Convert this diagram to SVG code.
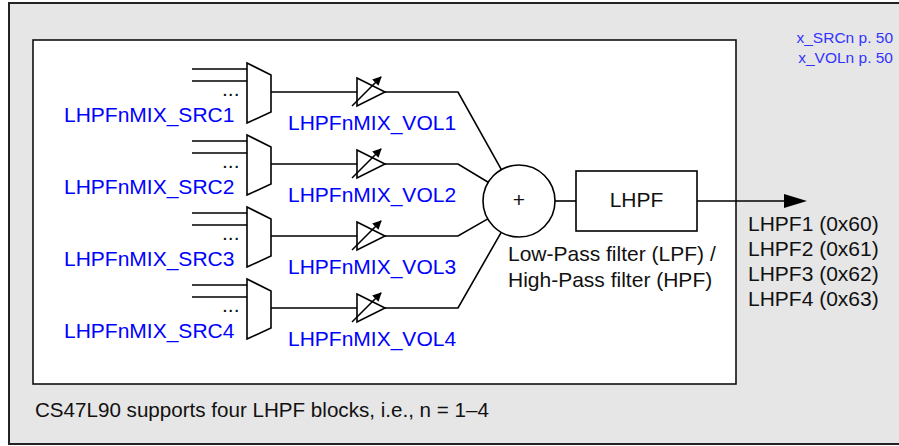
<svg xmlns="http://www.w3.org/2000/svg" width="899" height="446" viewBox="0 0 899 446">
<style>
.ln{fill:none;stroke:#000;stroke-width:1.6}
.sh{fill:#fff;stroke:#000;stroke-width:1.6}
.t{font-family:"Liberation Sans",Arial,sans-serif;font-size:21px;fill:#111}
.b{font-family:"Liberation Sans",Arial,sans-serif;font-size:21px;fill:#0000ff}
.r{font-family:"Liberation Sans",Arial,sans-serif;font-size:15.5px;fill:#3333ff;text-anchor:end}
</style>
<defs>
<marker id="ah" markerWidth="9" markerHeight="9" refX="8" refY="4.5" orient="auto" markerUnits="userSpaceOnUse">
<path d="M0,0 L9,4.5 L0,9 Z" fill="#000"/>
</marker>
<g id="muxshape">
<path class="sh" d="M247,63 L271,75 L271,112 L247,123 Z"/>
<path class="ln" d="M192,69 H247 M192,81 H247"/>
</g>
<g id="ampshape">
<path class="sh" d="M357,78 L385,92 L357,106 Z"/>
<path class="ln" d="M352,106 L381,77" marker-end="url(#ah)"/>
</g>
</defs>
<g id="frame">
<rect x="9" y="3" width="900" height="441" fill="#e6e6e6" stroke="#222" stroke-width="2"/>
<rect x="33" y="40" width="703" height="344" fill="#fff" stroke="#111" stroke-width="1.6"/>
<text class="r" x="893" y="43">x_SRCn p. 50</text>
<text class="r" x="893" y="63">x_VOLn p. 50</text>
<text class="t" x="35" y="417" style="font-size:20.6px">CS47L90 supports four LHPF blocks, i.e., n = 1–4</text>
</g>
<g id="connectors">
<path class="ln" d="M271,92 H357 M271,164 H357 M271,236 H357 M271,308 H357"/>
<path class="ln" d="M385,92 H458 L501.4,169.6"/>
<path class="ln" d="M385,164 H458 L488.2,182.3"/>
<path class="ln" d="M385,236 H458 L487.8,218.9"/>
<path class="ln" d="M385,308 H458 L501.2,232.3"/>
<path class="ln" d="M555,201 H576"/>
<path class="ln" d="M697,201 H785"/>
<path d="M784,194 L807,201 L784,208 Z" fill="#000"/>
</g>
<g id="mux1">
<use href="#muxshape"/>
<text class="t" x="222" y="96">...</text>
<text class="b" x="64" y="122">LHPFnMIX_SRC1</text>
</g>
<g id="mux2" transform="translate(0,72)">
<use href="#muxshape"/>
<text class="t" x="222" y="96">...</text>
<text class="b" x="64" y="122">LHPFnMIX_SRC2</text>
</g>
<g id="mux3" transform="translate(0,144)">
<use href="#muxshape"/>
<text class="t" x="222" y="96">...</text>
<text class="b" x="64" y="122">LHPFnMIX_SRC3</text>
</g>
<g id="mux4" transform="translate(0,216)">
<use href="#muxshape"/>
<text class="t" x="222" y="96">...</text>
<text class="b" x="64" y="122">LHPFnMIX_SRC4</text>
</g>
<g id="vol1">
<use href="#ampshape"/>
<text class="b" x="288" y="130">LHPFnMIX_VOL1</text>
</g>
<g id="vol2" transform="translate(0,72)">
<use href="#ampshape"/>
<text class="b" x="288" y="130">LHPFnMIX_VOL2</text>
</g>
<g id="vol3" transform="translate(0,144)">
<use href="#ampshape"/>
<text class="b" x="288" y="130">LHPFnMIX_VOL3</text>
</g>
<g id="vol4" transform="translate(0,216)">
<use href="#ampshape"/>
<text class="b" x="288" y="130">LHPFnMIX_VOL4</text>
</g>
<g id="sum">
<circle class="sh" cx="519" cy="201" r="36"/>
<text class="t" x="519" y="207" text-anchor="middle" style="font-size:21px">+</text>
</g>
<g id="lhpf">
<rect class="sh" x="576" y="171" width="121" height="60"/>
<text class="t" x="636.5" y="207" text-anchor="middle">LHPF</text>
<text class="t" x="508" y="261">Low-Pass filter (LPF) /</text>
<text class="t" x="508" y="287">High-Pass filter (HPF)</text>
</g>
<g id="outputs">
<text class="t" x="748" y="231">LHPF1 (0x60)</text>
<text class="t" x="748" y="256">LHPF2 (0x61)</text>
<text class="t" x="748" y="281">LHPF3 (0x62)</text>
<text class="t" x="748" y="306">LHPF4 (0x63)</text>
</g>
</svg>
